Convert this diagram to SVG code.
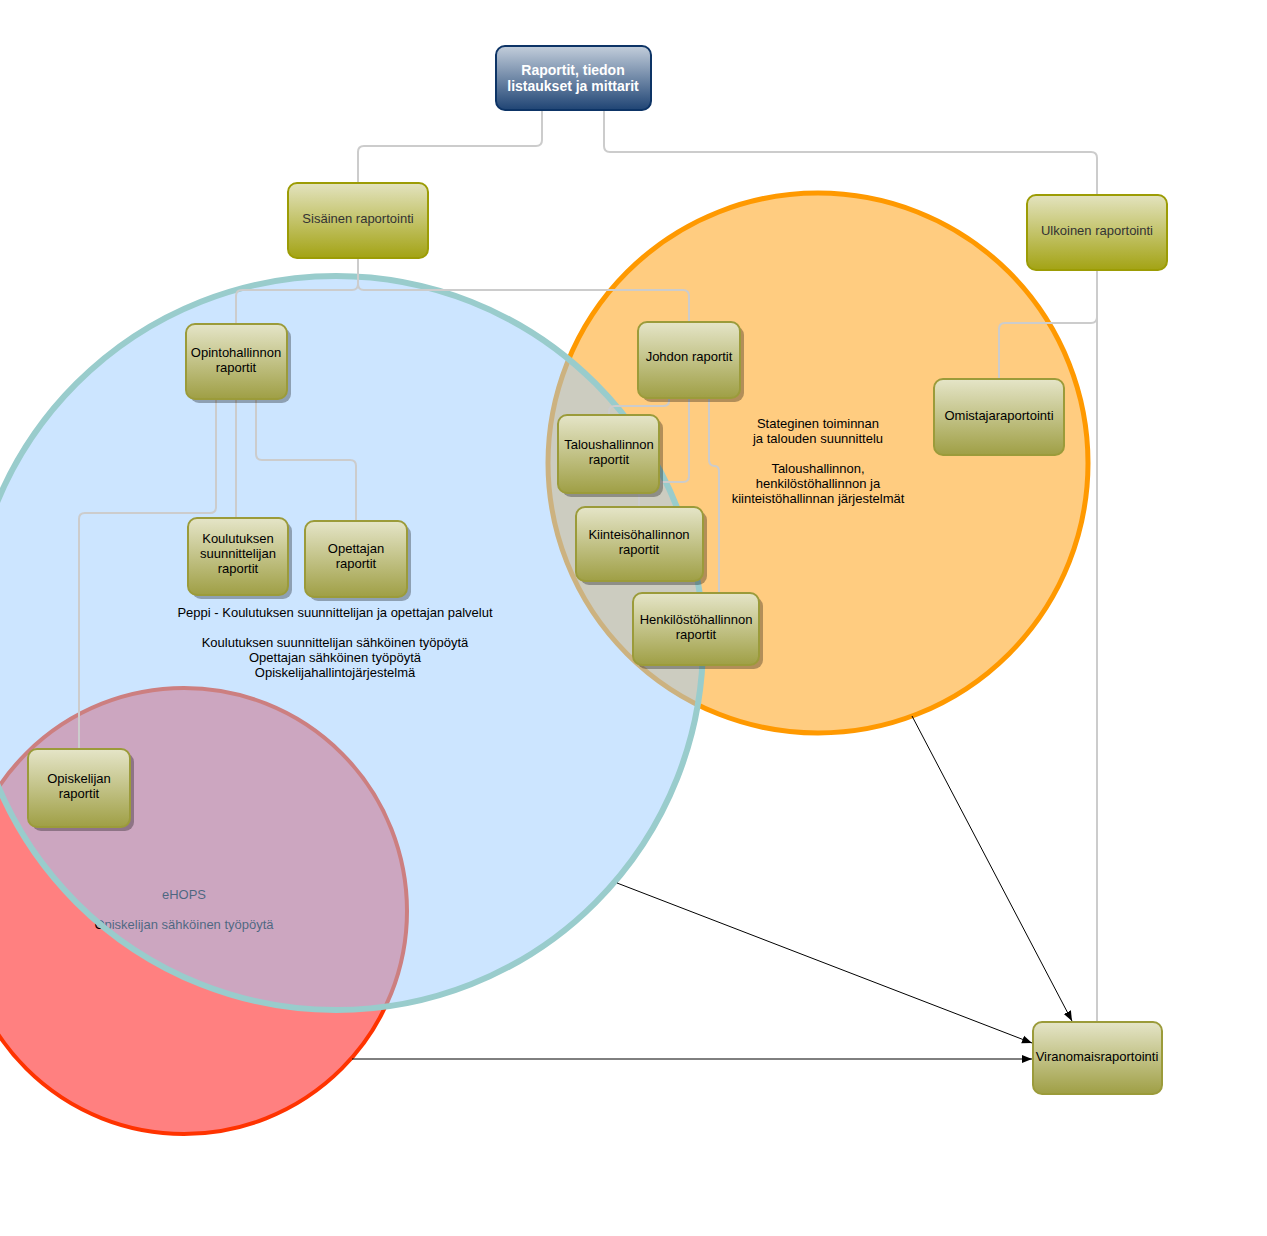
<svg xmlns="http://www.w3.org/2000/svg" width="1267" height="1236" viewBox="0 0 1267 1236">
<defs>
<linearGradient id="gOlive" x1="0" y1="0" x2="0" y2="1">
<stop offset="0" stop-color="#e5e5c8"/><stop offset="1" stop-color="#9f9f45"/>
</linearGradient>
<linearGradient id="gYel" x1="0" y1="0" x2="0" y2="1">
<stop offset="0" stop-color="#e3e3bf"/><stop offset="1" stop-color="#a3a314"/>
</linearGradient>
<linearGradient id="gBlue" x1="0" y1="0" x2="0" y2="1">
<stop offset="0" stop-color="#c3cedb"/><stop offset="1" stop-color="#1f4474"/>
</linearGradient>
<marker id="arr" viewBox="0 0 10 10" refX="10" refY="5" markerWidth="10" markerHeight="10" markerUnits="userSpaceOnUse" orient="auto">
<path d="M0,1 L10,5 L0,9 z" fill="#000"/>
</marker>
</defs>
<style>
.n{fill:url(#gOlive);stroke:#9b9b3a;stroke-width:2}
.ny{fill:url(#gYel);stroke:#9c9c05;stroke-width:2}
.sh{fill:#000;fill-opacity:0.3}
.t{font-family:"Liberation Sans",Arial,sans-serif;font-size:13px;fill:#000;text-anchor:middle}
.tg{font-family:"Liberation Sans",Arial,sans-serif;font-size:13px;fill:#333;text-anchor:middle}
.tw{font-family:"Liberation Sans",Arial,sans-serif;font-size:14px;font-weight:bold;fill:#fff;text-anchor:middle}
.c{fill:none;stroke:#cccccc;stroke-width:2}
.a{fill:none;stroke:#000;stroke-width:1;marker-end:url(#arr)}
</style>
<rect width="1267" height="1236" fill="#fff"/>
<g id="circle-strategic">
<circle cx="818" cy="463" r="270" fill="#ffcc80" stroke="#ff9900" stroke-width="5"/>
<text class="t"><tspan x="818" y="428">Stateginen toiminnan</tspan><tspan x="818" y="443">ja talouden suunnittelu</tspan><tspan x="818" y="473">Taloushallinnon,</tspan><tspan x="818" y="488">henkilöstöhallinnon ja</tspan><tspan x="818" y="503">kiinteistöhallinnan järjestelmät</tspan></text>
</g>
<g id="circle-ehops">
<circle cx="184" cy="911" r="223" fill="#ff8080" stroke="#ff3300" stroke-width="4"/>
<text class="t"><tspan x="184" y="899">eHOPS</tspan><tspan x="184" y="929">Opiskelijan sähköinen työpöytä</tspan></text>
</g>
<g id="circle-peppi">
<circle cx="336" cy="643" r="367" fill="#99ccff" fill-opacity="0.5" stroke="#99cccc" stroke-width="6"/>
<text class="t"><tspan x="335" y="617">Peppi - Koulutuksen suunnittelijan ja opettajan palvelut</tspan><tspan x="335" y="647">Koulutuksen suunnittelijan sähköinen työpöytä</tspan><tspan x="335" y="662">Opettajan sähköinen työpöytä</tspan><tspan x="335" y="677">Opiskelijahallintojärjestelmä</tspan></text>
</g>
<g id="connectors">
<path class="c" d="M542,110 V140 Q542,146 536,146 H364 Q358,146 358,152 V183"/>
<path class="c" d="M604,110 V146 Q604,152 610,152 H1091 Q1097,152 1097,158 V195"/>
<path class="c" d="M358,258 V284 Q358,290 352,290 H242 Q236,290 236,296 V324"/>
<path class="c" d="M358,258 V284 Q358,290 364,290 H683 Q689,290 689,296 V322"/>
<path class="c" d="M216,399 V507 Q216,513 210,513 H85 Q79,513 79,519 V749"/>
<path class="c" d="M236,399 V518"/>
<path class="c" d="M256,399 V454 Q256,460 262,460 H350 Q356,460 356,466 V521"/>
<path class="c" d="M669,398 V401 Q669,406 663,406 H615 Q609,406 609,411 V415"/>
<path class="c" d="M689,398 V476 Q689,482 683,482 H645 Q639,482 639,488 V507"/>
<path class="c" d="M709,398 V460 Q709,466 715,466 Q719,466 719,472 V593"/>
<path class="c" d="M1097,270 V317 Q1097,323 1091,323 H1005 Q999,323 999,329 V379"/>
<path class="c" d="M1097,270 V1022"/>
<path class="a" d="M617,883 L1032,1043"/>
<path class="a" d="M352,1059 L1032,1059"/>
<path class="a" d="M912,716 L1072,1021"/>
</g>
<g id="node-raportit">
<rect x="496" y="46" width="155" height="64" rx="9" fill="url(#gBlue)" stroke="#0d3466" stroke-width="2"/>
<text class="tw"><tspan x="573" y="75">Raportit, tiedon</tspan><tspan x="573" y="91">listaukset ja mittarit</tspan></text>
</g>
<g id="node-sisainen">
<rect class="ny" x="288" y="183" width="140" height="75" rx="9"/>
<text class="tg" x="358" y="223">Sisäinen raportointi</text>
</g>
<g id="node-ulkoinen">
<rect class="ny" x="1027" y="195" width="140" height="75" rx="9"/>
<text class="tg" x="1097" y="235">Ulkoinen raportointi</text>
</g>
<g id="node-opintohallinnon">
<rect class="sh" x="190" y="328" width="101" height="75" rx="9"/>
<rect class="n" x="186" y="324" width="101" height="75" rx="9"/>
<text class="t"><tspan x="236" y="357">Opintohallinnon</tspan><tspan x="236" y="372">raportit</tspan></text>
</g>
<g id="node-koulutuksen">
<rect class="sh" x="192" y="522" width="100" height="77" rx="9"/>
<rect class="n" x="188" y="518" width="100" height="77" rx="9"/>
<text class="t"><tspan x="238" y="543">Koulutuksen</tspan><tspan x="238" y="558">suunnittelijan</tspan><tspan x="238" y="573">raportit</tspan></text>
</g>
<g id="node-opettajan">
<rect class="sh" x="309" y="525" width="102" height="76" rx="9"/>
<rect class="n" x="305" y="521" width="102" height="76" rx="9"/>
<text class="t"><tspan x="356" y="553">Opettajan</tspan><tspan x="356" y="568">raportit</tspan></text>
</g>
<g id="node-opiskelijan">
<rect class="sh" x="32" y="753" width="102" height="78" rx="9"/>
<rect class="n" x="28" y="749" width="102" height="78" rx="9"/>
<text class="t"><tspan x="79" y="783">Opiskelijan</tspan><tspan x="79" y="798">raportit</tspan></text>
</g>
<g id="node-johdon">
<rect class="sh" x="642" y="326" width="102" height="76" rx="9"/>
<rect class="n" x="638" y="322" width="102" height="76" rx="9"/>
<text class="t" x="689" y="361">Johdon raportit</text>
</g>
<g id="node-talous">
<rect class="sh" x="562" y="419" width="101" height="78" rx="9"/>
<rect class="n" x="558" y="415" width="101" height="78" rx="9"/>
<text class="t"><tspan x="609" y="449">Taloushallinnon</tspan><tspan x="609" y="464">raportit</tspan></text>
</g>
<g id="node-kiinteisto">
<rect class="sh" x="580" y="511" width="127" height="74" rx="9"/>
<rect class="n" x="576" y="507" width="127" height="74" rx="9"/>
<text class="t"><tspan x="639" y="539">Kiinteisöhallinnon</tspan><tspan x="639" y="554">raportit</tspan></text>
</g>
<g id="node-henkilosto">
<rect class="sh" x="637" y="597" width="126" height="72" rx="9"/>
<rect class="n" x="633" y="593" width="126" height="72" rx="9"/>
<text class="t"><tspan x="696" y="624">Henkilöstöhallinnon</tspan><tspan x="696" y="639">raportit</tspan></text>
</g>
<g id="node-omistaja">
<rect class="n" x="934" y="379" width="130" height="76" rx="9"/>
<text class="t" x="999" y="420">Omistajaraportointi</text>
</g>
<g id="node-viranomais">
<rect class="n" x="1033" y="1022" width="129" height="72" rx="9"/>
<text class="t" x="1097" y="1061">Viranomaisraportointi</text>
</g>
</svg>
